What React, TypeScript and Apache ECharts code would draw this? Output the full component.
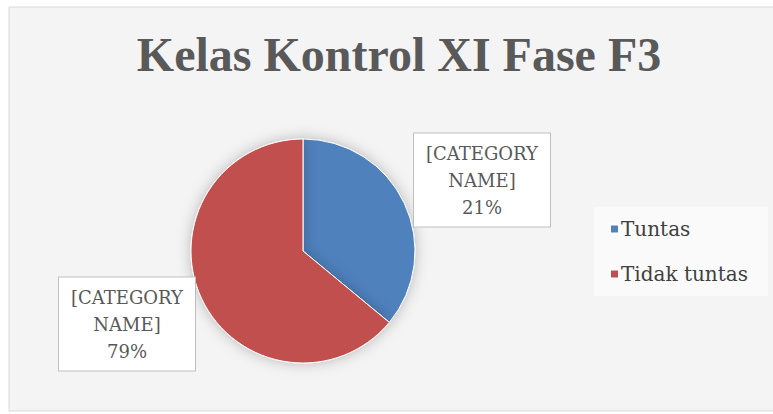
import React, { useEffect, useRef } from "react";
import * as echarts from "echarts";

const titleText = "Kelas Kontrol XI Fase F3";
const categories = ["Tuntas", "Tidak tuntas"];
// slice sizes as drawn in the picture
const sliceValues = [36, 64];
// percentages printed in the data labels
const labelPercents = ["21%", "79%"];
const sliceColors = ["#4f81bd", "#c0504d"];

export default function App() {
  const ref = useRef<HTMLDivElement>(null);
  useEffect(() => {
    document.body.style.margin = "0";
    const chart = echarts.init(ref.current!, null, { renderer: "svg" });
    const cx = 303;
    const cy = 251;
    const labelOffsets = [
      [179, -71],
      [-176, 73],
    ];
    chart.setOption({
      animation: false,
      backgroundColor: "#ffffff",
      graphic: [
        {
          type: "rect",
          z: -1,
          shape: { x: 9, y: 7, width: 770, height: 404 },
          style: { fill: "#f4f4f4", stroke: "#d9d9d9", lineWidth: 1 },
        },
      ],
      title: {
        text: titleText,
        left: 394,
        textAlign: "center",
        top: 25,
        textStyle: {
          fontFamily: "Liberation Serif",
          fontWeight: "bold",
          fontSize: 48,
          color: "#595959",
        },
      },
      legend: {
        orient: "vertical",
        left: 594,
        top: 207,
        padding: [12, 20, 12, 15],
        backgroundColor: "rgba(255,255,255,0.55)",
        itemWidth: 9,
        itemHeight: 9,
        itemGap: 25,
        icon: "rect",
        textStyle: {
          fontFamily: "DejaVu Serif",
          fontSize: 20,
          color: "#404040",
          padding: [0, 0, 0, -3],
        },
        data: categories,
      },
      series: [
        {
          type: "pie",
          center: [cx, cy],
          radius: 112,
          startAngle: 90,
          clockwise: true,
          itemStyle: {
            borderColor: "#ffffff",
            borderWidth: 1,
            shadowBlur: 14,
            shadowColor: "rgba(0,0,0,0.25)",
          },
          labelLine: { show: false },
          label: {
            show: true,
            position: "outside",
            formatter: (p: any) => "[CATEGORY\nNAME]\n" + labelPercents[p.dataIndex],
            fontFamily: "DejaVu Serif",
            fontSize: 18,
            lineHeight: 27,
            color: "#595959",
            backgroundColor: "#ffffff",
            borderColor: "#bfbfbf",
            borderWidth: 1,
            padding: [6, 10],
            width: 116,
            align: "center",
          },
          labelLayout: (params: any) => {
            const o = labelOffsets[params.dataIndex];
            return {
              x: cx + o[0],
              y: cy + o[1],
              align: "center",
              verticalAlign: "middle",
            };
          },
          data: categories.map((name, i) => ({
            name,
            value: sliceValues[i],
            itemStyle: { color: sliceColors[i] },
          })),
        },
      ],
    });
    return () => chart.dispose();
  }, []);
  return <div ref={ref} style={{ width: 773, height: 414 }} />;
}
